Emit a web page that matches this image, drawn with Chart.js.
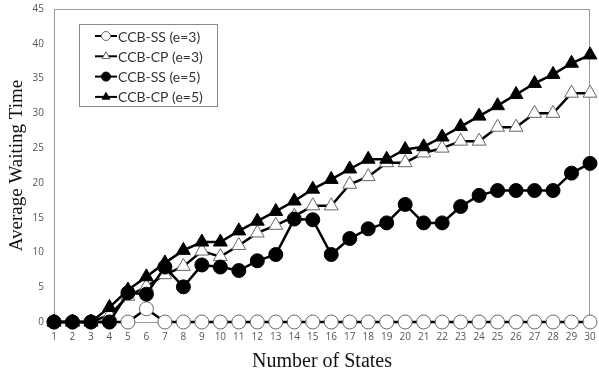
<!DOCTYPE html>
<html>
<head>
<meta charset="utf-8">
<script src="https://cdn.jsdelivr.net/npm/chart.js@4/dist/chart.umd.min.js"></script>
<style>
  html, body { margin: 0; padding: 0; background: #fff; }
  #wrap { width: 599px; height: 374px; }
</style>
</head>
<body>
<div id="wrap"><canvas id="waitChart" width="599" height="374"></canvas></div>
<script>
// ---- data ----
const states = ["1","2","3","4","5","6","7","8","9","10","11","12","13","14","15",
  "16","17","18","19","20","21","22","23","24","25","26","27","28","29","30"];

const ssE3 = [0,0,0,0,0,1.9,0,0,0,0,0,0,0,0,0,0,0,0,0,0,0,0,0,0,0,0,0,0,0,0];
const cpE3 = [0,0,0,1.0,3.7,5.1,6.8,8.0,10.2,9.4,11.0,12.8,13.9,15.2,16.7,16.7,19.8,20.9,22.9,22.9,
  24.3,25.0,26.0,26.0,28.0,28.0,30.0,30.0,32.9,32.9];
const ssE5 = [0,0,0,0,4.2,4.0,7.9,5.05,8.2,7.9,7.4,8.8,9.7,14.8,14.7,9.7,12.0,13.4,14.25,16.9,
  14.25,14.25,16.6,18.2,18.9,18.9,18.9,18.9,21.4,22.8];
const cpE5 = [0,0,0,2.1,4.6,6.5,8.5,10.3,11.5,11.5,13.1,14.5,15.9,17.4,19.1,20.5,22.0,23.4,23.4,24.8,
  25.2,26.6,28.1,29.6,31.1,32.7,34.3,35.6,37.2,38.4];

const seriesNames = ["CCB-SS (e=3)", "CCB-CP (e=3)", "CCB-SS (e=5)", "CCB-CP (e=5)"];
const yTicks = [0, 5, 10, 15, 20, 25, 30, 35, 40, 45];

// ---- box round the plot + legend inside ----
const frameAndLegend = {
  id: "frameAndLegend",
  beforeDatasetsDraw(chart) {
    const { ctx, chartArea: a } = chart;
    ctx.save();
    ctx.strokeStyle = "#9a9a9a";
    ctx.lineWidth = 1;
    ctx.beginPath();
    ctx.moveTo(a.left, a.top + 0.5);
    ctx.lineTo(a.right - 0.5, a.top + 0.5);
    ctx.lineTo(a.right - 0.5, a.bottom);
    ctx.stroke();
    ctx.restore();
  },
  afterDraw(chart) {
    const ctx = chart.ctx;
    ctx.save();
    ctx.fillStyle = "#fff";
    ctx.strokeStyle = "#8a8a8a";
    ctx.lineWidth = 1;
    ctx.fillRect(79.5, 24.5, 138, 82);
    ctx.strokeRect(79.5, 24.5, 138, 82);
    ctx.font = "14px Lato, sans-serif";
    ctx.textBaseline = "middle";
    chart.data.datasets.forEach((ds, i) => {
      const y = 36 + i * 20.3;
      ctx.strokeStyle = "#000";
      ctx.lineWidth = 2;
      ctx.beginPath();
      ctx.moveTo(95, y);
      ctx.lineTo(117, y);
      ctx.stroke();
      ctx.fillStyle = ds.pointBackgroundColor;
      ctx.strokeStyle = ds.pointBorderColor;
      ctx.lineWidth = 1;
      Chart.helpers.drawPoint(ctx, { pointStyle: ds.pointStyle, radius: 4.5, rotation: 0, borderWidth: 1 }, 106, y);
      ctx.fillStyle = "#333";
      ctx.fillText(ds.label, 118, y + 1);
    });
    ctx.restore();
  }
};

function series(label, data, style, filled, order) {
  return {
    label,
    data,
    borderColor: "#000",
    borderWidth: 2.5,
    pointStyle: style,
    pointRadius: style === "triangle" ? 8 : 7,
    pointHoverRadius: style === "triangle" ? 8 : 7,
    pointBackgroundColor: filled ? "#000" : "#fff",
    pointBorderColor: filled ? "#000" : "#666",
    pointBorderWidth: 1,
    tension: 0,
    clip: false,
    order
  };
}

new Chart(document.getElementById("waitChart"), {
  type: "line",
  data: {
    labels: states,
    datasets: [
      series(seriesNames[0], ssE3, "circle", false, 3),
      series(seriesNames[1], cpE3, "triangle", false, 2),
      series(seriesNames[2], ssE5, "circle", true, 1),
      series(seriesNames[3], cpE5, "triangle", true, 0)
    ]
  },
  options: {
    responsive: false,
    animation: false,
    layout: { padding: 0 },
    plugins: {
      legend: { display: false },
      tooltip: { enabled: false }
    },
    scales: {
      x: {
        offset: false,
        grid: { display: false, drawTicks: false },
        border: { display: true, color: "#9a9a9a" },
        ticks: {
          autoSkip: false,
          maxRotation: 0,
          padding: 9,
          color: "#555",
          font: { family: "'Open Sans', sans-serif", size: 10 }
        },
        title: {
          display: true,
          text: "Number of States",
          color: "#111",
          font: { family: "'Liberation Serif', serif", size: 20 },
          padding: { top: 6, bottom: 0 }
        },
        afterFit(scale) {
          scale.height = 52;
          scale.paddingLeft = 0;
          scale.paddingRight = 6;
        }
      },
      y: {
        min: 0,
        max: 45,
        afterBuildTicks(scale) { scale.ticks = yTicks.map(v => ({ value: v })); },
        grid: { display: false, drawTicks: false },
        border: { display: true, color: "#9a9a9a" },
        ticks: {
          padding: 10,
          color: "#555",
          font: { family: "'Open Sans', sans-serif", size: 10 }
        },
        title: {
          display: true,
          text: "Average Waiting Time",
          color: "#111",
          font: { family: "'Liberation Serif', serif", size: 19 },
          padding: { top: 6, bottom: 0 }
        },
        afterFit(scale) {
          scale.width = 54;
          scale.paddingTop = 9;
          scale.paddingBottom = 0;
        }
      }
    }
  },
  plugins: [frameAndLegend]
});
</script>
</body>
</html>
